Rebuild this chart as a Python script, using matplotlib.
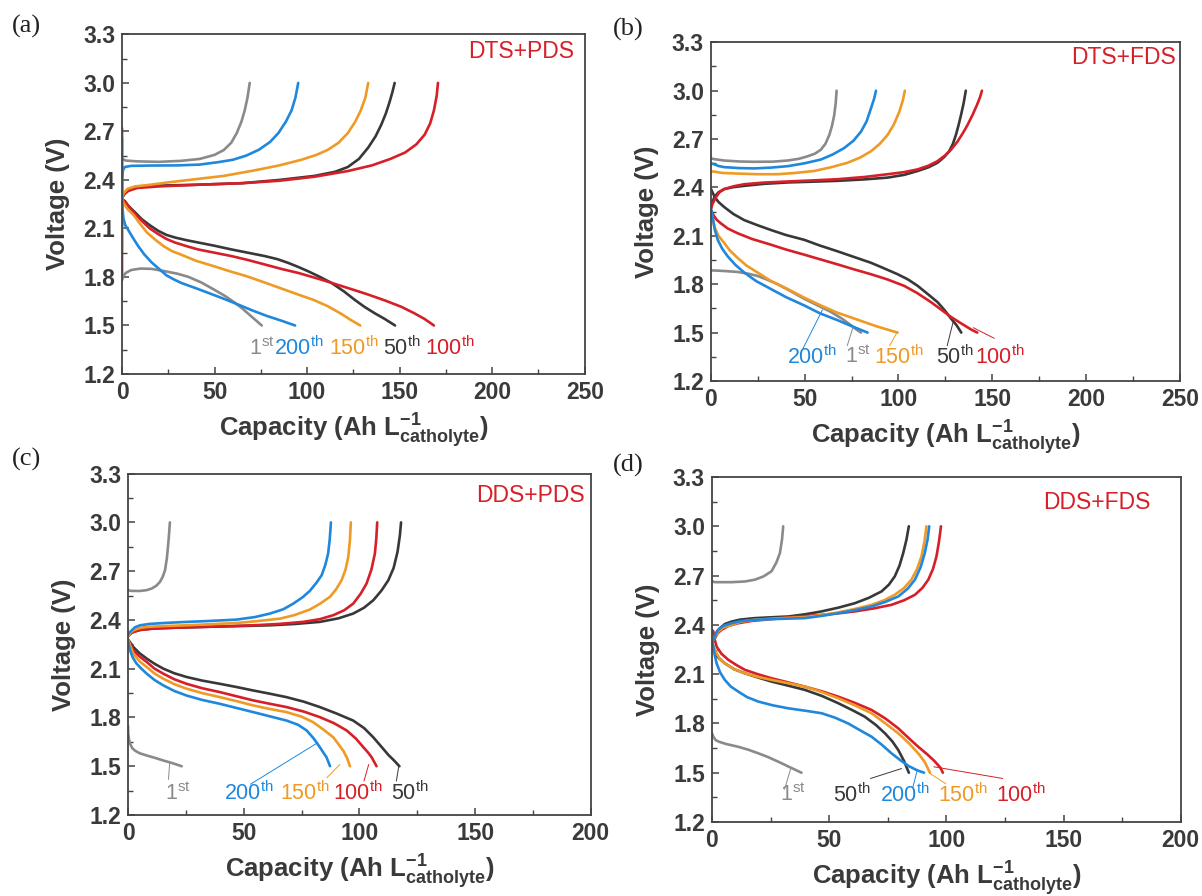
"""Charge/discharge voltage profiles for the four catholyte combinations."""

import matplotlib

matplotlib.use("Agg")
import matplotlib.pyplot as plt
import numpy as np
from matplotlib.ticker import FormatStrFormatter, MultipleLocator


CYCLE_COLORS = {
    "1st": "#8a8a8a",
    "50th": "#383838",
    "100th": "#d61f28",
    "150th": "#ef9a24",
    "200th": "#1f88dc",
}
DRAW_ORDER = ["1st", "50th", "100th", "150th", "200th"]

# ---- (a) DTS+PDS : (capacity Ah/L, voltage V) ----
A_CHARGE = {
    "1st": [(0, 2.53), (2, 2.52), (8, 2.515), (20, 2.512), (32, 2.518), (42, 2.53), (50, 2.555),
            (55, 2.585), (59, 2.63), (62, 2.69), (64.5, 2.76), (66.3, 2.83), (67.8, 2.91), (69, 3.0)],
    "200th": [(0, 2.12), (0, 2.40), (0.5, 2.46), (1.5, 2.48), (5, 2.487), (15, 2.489), (30, 2.49),
              (42, 2.495), (52, 2.51), (60, 2.525), (67, 2.55), (74, 2.587), (80, 2.635),
              (84.5, 2.69), (88.5, 2.76), (91.6, 2.83), (93.7, 2.91), (95.2, 3.0)],
    "150th": [(0, 1.97), (0, 2.29), (1, 2.32), (3, 2.345), (7, 2.36), (15, 2.37), (25, 2.385),
              (40, 2.405), (55, 2.425), (72, 2.46), (85, 2.49), (97, 2.525), (105, 2.555),
              (111, 2.585), (117, 2.63), (122, 2.69), (126, 2.76), (129, 2.83), (131.5, 2.91),
              (133, 3.0)],
    "50th": [(0, 2.29), (1.5, 2.315), (4, 2.34), (9, 2.355), (20, 2.365), (40, 2.37), (65, 2.38),
             (85, 2.40), (104, 2.425), (115, 2.45), (122, 2.48), (128, 2.53), (133, 2.60),
             (137, 2.67), (140, 2.74), (142.5, 2.81), (144.5, 2.88), (146, 2.94), (147.3, 3.0)],
    "100th": [(0, 1.82), (0, 2.29), (1, 2.31), (3, 2.33), (8, 2.35), (20, 2.36), (40, 2.37),
              (65, 2.38), (85, 2.395), (104, 2.42), (122, 2.455), (135, 2.49), (145, 2.53),
              (153, 2.57), (159, 2.62), (163.5, 2.68), (166.5, 2.75), (168.5, 2.83), (170, 2.92),
              (170.7, 3.0)],
}
A_DISCHARGE = {
    "1st": [(0, 1.78), (0.5, 1.80), (2, 1.825), (5, 1.843), (10, 1.852), (16, 1.85), (23, 1.836),
            (30, 1.82), (36, 1.80), (43, 1.765), (50, 1.72), (56, 1.68), (61, 1.64), (65, 1.605),
            (68.5, 1.57), (72, 1.535), (75.5, 1.50)],
    "200th": [(0, 2.66), (0, 2.28), (0.3, 2.22), (0.8, 2.16), (1.8, 2.12), (3.4, 2.09), (6, 2.04),
              (8.8, 1.99), (12, 1.94), (16, 1.89), (20, 1.85), (24, 1.81), (28, 1.785), (32, 1.763),
              (40, 1.73), (47, 1.70), (55, 1.665), (62, 1.633), (70, 1.595), (78, 1.56), (86, 1.53),
              (93.5, 1.50)],
    "150th": [(0, 2.28), (1, 2.255), (3, 2.22), (6.5, 2.18), (10, 2.125), (13.5, 2.075), (18, 2.03),
              (22.5, 1.99), (27, 1.96), (31.5, 1.94), (40, 1.90), (49.5, 1.867), (58, 1.836),
              (67.5, 1.804), (76, 1.77), (85.5, 1.731), (95, 1.692), (103.5, 1.658), (111, 1.62),
              (118, 1.575), (123.5, 1.535), (128.7, 1.50)],
    "50th": [(0, 2.28), (1.5, 2.27), (3.4, 2.24), (7, 2.20), (10.6, 2.158), (15, 2.12), (19.6, 2.085),
             (24, 2.06), (28.6, 2.044), (35, 2.027), (41.2, 2.013), (50, 1.993), (59.2, 1.97),
             (68, 1.95), (77.2, 1.929), (84, 1.91), (89.8, 1.887), (95, 1.863), (100.6, 1.835),
             (107, 1.80), (113.2, 1.763), (120, 1.71), (125.8, 1.658), (131, 1.615), (136.6, 1.575),
             (142, 1.54), (147.5, 1.50)],
    "100th": [(0, 2.72), (0, 2.28), (1.5, 2.265), (3.4, 2.24), (7, 2.19), (10.6, 2.148), (15, 2.10),
              (19.6, 2.065), (24, 2.035), (28.6, 2.013), (35, 1.99), (41.2, 1.97), (50, 1.95),
              (59.2, 1.929), (68, 1.905), (77.2, 1.877), (86, 1.85), (95.2, 1.825), (107.8, 1.783),
              (122.2, 1.731), (132, 1.695), (142, 1.655), (151, 1.615), (158, 1.575), (163.5, 1.54),
              (168.5, 1.50)],
}

# ---- (b) DTS+FDS ----
B_CHARGE = {
    "1st": [(0, 2.58), (2, 2.575), (7, 2.567), (15, 2.561), (23, 2.559), (33, 2.56), (41, 2.567),
            (47, 2.578), (51.5, 2.593), (55.5, 2.61), (58.6, 2.634), (61, 2.67), (63.1, 2.725),
            (64.5, 2.78), (65.7, 2.847), (66.5, 2.92), (67, 3.0)],
    "200th": [(0, 2.55), (1.8, 2.543), (4, 2.533), (7, 2.526), (15, 2.52), (23, 2.518), (32, 2.523),
              (41, 2.532), (50, 2.55), (58.6, 2.573), (65, 2.605), (71, 2.644), (76, 2.69),
              (80, 2.746), (83, 2.81), (85.3, 2.89), (87, 2.95), (88, 3.0)],
    "150th": [(0, 2.50), (1.8, 2.498), (6, 2.49), (14, 2.486), (25, 2.482), (35.5, 2.482), (45, 2.49),
              (55, 2.502), (64, 2.525), (72.8, 2.553), (79.5, 2.585), (85.3, 2.624), (90, 2.67),
              (94.2, 2.726), (97.5, 2.79), (100.4, 2.868), (102.3, 2.94), (103.4, 3.0)],
    "50th": [(0, 2.27), (0.5, 2.30), (1.8, 2.34), (4, 2.37), (7.1, 2.39), (12, 2.402), (17.8, 2.41),
             (28, 2.422), (40.9, 2.431), (55, 2.436), (67.5, 2.441), (82, 2.45), (94.2, 2.461),
             (103, 2.478), (110.2, 2.502), (116, 2.525), (120.8, 2.553), (124.5, 2.59), (127, 2.624),
             (129, 2.67), (130.6, 2.725), (132, 2.785), (133.3, 2.847), (134.7, 2.92), (135.9, 3.0)],
    "100th": [(0, 2.27), (0.9, 2.30), (2.7, 2.34), (4.5, 2.37), (7.1, 2.39), (12, 2.407),
              (17.8, 2.42), (28, 2.43), (40.9, 2.437), (55, 2.444), (67.5, 2.451), (82, 2.465),
              (94.2, 2.482), (103, 2.495), (110.2, 2.512), (116, 2.535), (120.8, 2.563), (125, 2.60),
              (128, 2.634), (131.5, 2.685), (134.5, 2.74), (136.8, 2.787), (139.5, 2.85),
              (141.8, 2.91), (143.5, 2.96), (144.5, 3.0)],
}
B_DISCHARGE = {
    "1st": [(0, 1.886), (7, 1.882), (14.2, 1.876), (20, 1.865), (24.9, 1.851), (30, 1.828),
            (35.5, 1.80), (42, 1.76), (49.8, 1.709), (57, 1.668), (64, 1.628), (70, 1.585),
            (74.6, 1.546), (77.5, 1.52), (80, 1.50)],
    "200th": [(0, 2.27), (0.5, 2.24), (0.9, 2.217), (2, 2.14), (3.6, 2.075), (6, 2.02), (8.9, 1.973),
              (13, 1.92), (17.8, 1.872), (24, 1.82), (32, 1.77), (40, 1.72), (49.8, 1.668),
              (58, 1.62), (67.5, 1.577), (75, 1.54), (83.5, 1.50)],
    "150th": [(0, 2.26), (0.8, 2.21), (1.8, 2.156), (4, 2.10), (7.1, 2.055), (10, 2.01),
              (14.2, 1.963), (19, 1.915), (24.9, 1.872), (32, 1.82), (40.9, 1.77), (50, 1.715),
              (58.6, 1.668), (67, 1.625), (76.4, 1.587), (88, 1.54), (99.5, 1.50)],
    "50th": [(0, 2.39), (2, 2.34), (4, 2.31), (7.1, 2.278), (12, 2.235), (17.8, 2.197), (25, 2.165),
             (32, 2.136), (40, 2.105), (49.8, 2.075), (58, 2.04), (67.5, 2.004), (76, 1.97),
             (85.3, 1.933), (92, 1.90), (99.5, 1.862), (105, 1.83), (110.2, 1.79), (115.5, 1.74),
             (120.8, 1.689), (124.5, 1.64), (128, 1.587), (131, 1.545), (133.5, 1.50)],
    "100th": [(0, 2.26), (1.5, 2.225), (3, 2.20), (5.3, 2.177), (9, 2.145), (14.2, 2.116),
              (22, 2.08), (32, 2.045), (40, 2.015), (49.8, 1.983), (58, 1.955), (67.5, 1.923),
              (76, 1.893), (85.3, 1.862), (94, 1.83), (103, 1.79), (110, 1.745), (117.3, 1.689),
              (123, 1.64), (128, 1.597), (133, 1.56), (138.6, 1.52), (142, 1.50)],
}

# ---- (c) DDS+PDS ----
C_CHARGE = {
    "1st": [(0, 2.585), (1, 2.579), (5, 2.578), (8, 2.583), (10.2, 2.593), (12.2, 2.61),
            (13.8, 2.634), (15, 2.665), (16, 2.706), (16.8, 2.78), (17.4, 2.87), (17.8, 2.94),
            (18.1, 3.0)],
    "200th": [(0, 2.31), (0.8, 2.325), (1.6, 2.336), (3, 2.355), (5.2, 2.367), (9, 2.375),
              (15.3, 2.381), (24, 2.387), (32.5, 2.392), (40, 2.397), (46.9, 2.402), (55, 2.418),
              (61.3, 2.439), (67, 2.465), (71.4, 2.50), (75.5, 2.54), (78.6, 2.579), (81.5, 2.63),
              (83.7, 2.675), (85.3, 2.74), (86.5, 2.809), (87.2, 2.90), (87.7, 3.0)],
    "150th": [(0, 2.30), (1, 2.32), (2.3, 2.336), (5, 2.35), (8.1, 2.357), (15, 2.362), (25.3, 2.367),
              (35, 2.373), (46.9, 2.381), (56, 2.393), (65.7, 2.408), (72, 2.43), (78.6, 2.464),
              (83, 2.50), (87.3, 2.542), (90, 2.59), (92.3, 2.644), (94, 2.71), (95.2, 2.788),
              (95.9, 2.89), (96.3, 3.0)],
    "100th": [(0, 2.30), (1, 2.315), (2.3, 2.326), (5, 2.338), (10.9, 2.347), (20, 2.352),
              (32.5, 2.357), (43, 2.362), (54.1, 2.367), (65, 2.375), (75.7, 2.388), (83, 2.405),
              (88.7, 2.429), (93.5, 2.46), (97.3, 2.50), (100.5, 2.56), (103.1, 2.624), (105.2, 2.71),
              (106.7, 2.809), (107.3, 2.90), (107.7, 3.0)],
    "50th": [(0, 2.30), (1, 2.315), (2.3, 2.326), (5, 2.338), (10.9, 2.347), (20, 2.352),
             (32.5, 2.357), (45, 2.361), (61.3, 2.367), (72, 2.375), (82.9, 2.388), (91, 2.41),
             (97.3, 2.439), (102, 2.475), (106, 2.521), (109.5, 2.58), (112.5, 2.644), (114.8, 2.72),
             (116.5, 2.82), (117.5, 2.92), (118, 3.0)],
}
C_DISCHARGE = {
    "1st": [(0, 1.75), (0.1, 1.70), (0.5, 1.66), (0.9, 1.638), (1.8, 1.612), (3, 1.596), (5, 1.58),
            (8.1, 1.566), (12, 1.55), (15.3, 1.535), (19, 1.52), (23.2, 1.50)],
    "200th": [(0, 2.27), (0.9, 2.213), (2, 2.17), (3.7, 2.131), (5.8, 2.10), (8.1, 2.069),
              (11.5, 2.03), (15.3, 1.997), (20, 1.963), (25.3, 1.935), (32, 1.908), (39.7, 1.884),
              (47, 1.858), (54.1, 1.833), (61, 1.808), (68.5, 1.781), (73.5, 1.755), (77.2, 1.72),
              (80.3, 1.67), (82.9, 1.617), (84.6, 1.58), (85.8, 1.555), (87.3, 1.50)],
    "150th": [(0, 2.28), (1, 2.24), (2.3, 2.192), (5, 2.145), (8.1, 2.11), (11.5, 2.07),
              (15.3, 2.038), (20, 2.005), (25.3, 1.977), (32, 1.95), (39.7, 1.925), (47, 1.90),
              (54.1, 1.874), (61, 1.853), (68.5, 1.833), (75, 1.805), (80, 1.771), (84.5, 1.725),
              (88.7, 1.678), (91, 1.635), (93, 1.596), (94.7, 1.55), (95.9, 1.50)],
    "100th": [(0, 2.28), (1, 2.25), (2.3, 2.213), (5, 2.175), (8.1, 2.141), (11.5, 2.10),
              (15.3, 2.069), (20, 2.035), (25.3, 2.007), (32, 1.98), (39.7, 1.956), (47, 1.93),
              (54.1, 1.905), (61, 1.885), (68.5, 1.864), (76, 1.836), (82.9, 1.802), (89, 1.765),
              (94.5, 1.72), (98.5, 1.67), (101.7, 1.617), (103.7, 1.585), (105.3, 1.555),
              (107.4, 1.50)],
    "50th": [(0, 2.28), (1, 2.26), (2.3, 2.233), (5, 2.195), (8.1, 2.162), (11.5, 2.13),
             (15.3, 2.10), (20, 2.072), (25.3, 2.049), (32, 2.027), (39.7, 2.007), (47, 1.987),
             (54.1, 1.966), (61, 1.947), (68.5, 1.925), (76, 1.897), (82.9, 1.864), (90, 1.825),
             (97.3, 1.781), (102, 1.735), (106, 1.678), (109.5, 1.62), (112.5, 1.57), (115, 1.535),
             (117.3, 1.50)],
}

# ---- (d) DDS+FDS ----
D_CHARGE = {
    "1st": [(0, 2.665), (1.3, 2.66), (8.4, 2.66), (14, 2.664), (18.3, 2.675), (22, 2.695),
            (25.4, 2.726), (27.5, 2.78), (29, 2.837), (29.9, 2.92), (30.4, 3.0)],
    "50th": [(0, 2.30), (1.3, 2.33), (2.2, 2.36), (3.4, 2.38), (5.5, 2.405), (8.4, 2.42),
             (12, 2.432), (18.3, 2.441), (25, 2.446), (32.6, 2.451), (40, 2.465), (46.8, 2.482),
             (54, 2.505), (61, 2.532), (67, 2.565), (72.4, 2.604), (75.5, 2.645), (78, 2.695),
             (80, 2.76), (81.6, 2.837), (83, 2.92), (84, 3.0)],
    "200th": [(0, 2.29), (1, 2.32), (1.8, 2.35), (2.7, 2.37), (5, 2.395), (8.4, 2.41), (12, 2.422),
              (18.3, 2.431), (28, 2.436), (39.7, 2.441), (47, 2.455), (53.9, 2.471), (61, 2.49),
              (68.1, 2.512), (74, 2.54), (79.5, 2.573), (83.5, 2.62), (86.6, 2.675), (89, 2.75),
              (90.8, 2.837), (92, 2.92), (92.7, 3.0)],
    "150th": [(0, 2.29), (1, 2.32), (2.7, 2.36), (5, 2.385), (8.4, 2.40), (12, 2.418),
              (18.3, 2.431), (28, 2.44), (39.7, 2.447), (47, 2.46), (53.9, 2.476), (61, 2.497),
              (68.1, 2.522), (73.5, 2.55), (78, 2.583), (82, 2.625), (85.1, 2.675), (87.5, 2.74),
              (89.4, 2.817), (90.7, 2.91), (91.5, 3.0)],
    "100th": [(0, 2.28), (1.3, 2.32), (2.5, 2.35), (4.1, 2.37), (7, 2.393), (11.2, 2.41),
              (17, 2.424), (25.4, 2.435), (35, 2.448), (46.8, 2.461), (55, 2.472), (61, 2.482),
              (69, 2.50), (76.6, 2.522), (82, 2.55), (86.6, 2.583), (89.8, 2.625), (92.3, 2.675),
              (94.3, 2.74), (95.8, 2.817), (96.9, 2.91), (97.7, 3.0)],
}
D_DISCHARGE = {
    "1st": [(0, 1.74), (0.6, 1.72), (1.5, 1.70), (2.7, 1.69), (6, 1.675), (11.2, 1.658),
            (15.5, 1.64), (19.8, 1.618), (24, 1.595), (28.3, 1.567), (33, 1.535), (38.2, 1.50)],
    "50th": [(0, 2.30), (0.6, 2.248), (2, 2.21), (5.5, 2.166), (9.5, 2.13), (14.1, 2.105),
             (19.5, 2.08), (25.4, 2.055), (32.5, 2.03), (39.7, 2.004), (47, 1.967), (53.9, 1.923),
             (60, 1.88), (65.2, 1.841), (70, 1.79), (73.8, 1.74), (77, 1.69), (79.5, 1.638),
             (82, 1.57), (84, 1.50)],
    "200th": [(0, 2.30), (0.3, 2.29), (0.6, 2.268), (1.2, 2.215), (2, 2.166), (3.5, 2.11),
              (5.5, 2.065), (8, 2.025), (11.2, 1.994), (15, 1.96), (19.8, 1.933), (26, 1.91),
              (32.6, 1.892), (40, 1.877), (46.8, 1.862), (52.5, 1.835), (58.1, 1.80), (63, 1.76),
              (68.1, 1.719), (72.5, 1.67), (76.6, 1.618), (80.5, 1.575), (84, 1.54), (87.5, 1.515),
              (90.5, 1.50)],
    "150th": [(0, 2.30), (1.3, 2.248), (3, 2.20), (5.5, 2.166), (9.5, 2.13), (14.1, 2.105),
              (19.5, 2.083), (25.4, 2.065), (32.5, 2.045), (39.7, 2.024), (47, 1.99), (53.9, 1.953),
              (61, 1.91), (68.1, 1.862), (74, 1.80), (79.5, 1.74), (84, 1.68), (88, 1.618),
              (90.8, 1.565), (93, 1.50)],
    "100th": [(0, 2.37), (0.6, 2.36), (1.2, 2.31), (2, 2.268), (4, 2.225), (7, 2.187),
              (10.5, 2.155), (14.1, 2.126), (19.5, 2.10), (25.4, 2.075), (32.5, 2.05), (39.7, 2.024),
              (47, 1.995), (53.9, 1.963), (61, 1.925), (68.1, 1.882), (74, 1.83), (79.5, 1.77),
              (84, 1.71), (88, 1.658), (92, 1.61), (95, 1.57), (97.5, 1.53), (98.5, 1.50)],
}

# cycle tags: (cycle, x, y) in data units, left aligned
A_TAGS = [("1st", 68.6, 1.36), ("200th", 82, 1.36), ("150th", 112, 1.36), ("50th", 141, 1.36),
          ("100th", 163.6, 1.36)]
B_TAGS = [("200th", 40.5, 1.35), ("1st", 71.7, 1.35), ("150th", 87, 1.35), ("50th", 120, 1.35),
          ("100th", 141, 1.35)]
C_TAGS = [("1st", 15.9, 1.335), ("200th", 41.5, 1.335), ("150th", 65.5, 1.335),
          ("100th", 88.7, 1.335), ("50th", 113.5, 1.335)]
D_TAGS = [("1st", 29, 1.365), ("50th", 51.8, 1.365), ("200th", 71.5, 1.365),
          ("150th", 96.4, 1.365), ("100th", 121, 1.365)]

# thin leader lines from a tag to its curve: (cycle, x0, y0, x1, y1)
A_LEADERS = []
B_LEADERS = [("200th", 49, 1.40, 59.4, 1.64), ("1st", 72.7, 1.42, 75.8, 1.535),
             ("150th", 95.3, 1.42, 99.4, 1.505), ("50th", 126, 1.42, 129, 1.56),
             ("100th", 151, 1.465, 140, 1.53)]
C_LEADERS = [("1st", 17.5, 1.42, 18, 1.52), ("200th", 53, 1.39, 82, 1.645),
             ("150th", 86, 1.43, 91.5, 1.51), ("100th", 102, 1.41, 104, 1.51),
             ("50th", 116, 1.41, 117, 1.50)]
D_LEADERS = [("1st", 31, 1.40, 33.5, 1.52), ("50th", 67.7, 1.465, 80.8, 1.525),
             ("200th", 85.7, 1.41, 87.4, 1.505), ("150th", 99.7, 1.434, 93, 1.495),
             ("100th", 124, 1.465, 94.7, 1.536)]

PANELS = [
    # letter, title, x max, charge, discharge, tags, leaders, axes rect, title pos (axes frac)
    ("(a)", "DTS+PDS", 250, A_CHARGE, A_DISCHARGE, A_TAGS, A_LEADERS,
     [0.1015, 0.5826, 0.385, 0.379], (0.977, 0.951)),
    ("(b)", "DTS+FDS", 250, B_CHARGE, B_DISCHARGE, B_TAGS, B_LEADERS,
     [0.5915, 0.5748, 0.390, 0.378], (0.992, 0.954)),
    ("(c)", "DDS+PDS", 200, C_CHARGE, C_DISCHARGE, C_TAGS, C_LEADERS,
     [0.1065, 0.0904, 0.385, 0.381], (0.988, 0.936)),
    ("(d)", "DDS+FDS", 200, D_CHARGE, D_DISCHARGE, D_TAGS, D_LEADERS,
     [0.5923, 0.0826, 0.390, 0.385], (0.936, 0.925)),
]
LETTER_POS = [(0.022, 0.971), (0.523, 0.967), (0.022, 0.487), (0.523, 0.480)]

INK = "#3a3a3a"

plt.rcParams.update(
    {
        "font.family": ["Liberation Sans", "DejaVu Sans"],
        "mathtext.fontset": "custom",
        "mathtext.rm": "Liberation Sans",
        "mathtext.bf": "Liberation Sans:bold",
        "mathtext.default": "regular",
        "axes.linewidth": 1.3,
        "axes.edgecolor": "#444444",
        "xtick.direction": "in",
        "ytick.direction": "in",
        "xtick.color": "#444444",
        "ytick.color": "#444444",
    }
)


def tag_text(cycle):
    num = cycle.rstrip("stndrh")
    suffix = cycle[len(num):]
    return num + r"$^{\mathregular{" + suffix + "}}$"


def draw_panel(fig, letter, title, xmax, charge, discharge, tags, leaders, rect, title_pos, letter_pos):
    ax = fig.add_axes(rect)
    for cycle in DRAW_ORDER:
        color = CYCLE_COLORS[cycle]
        for curves in (charge, discharge):
            pts = np.array(curves[cycle])
            ax.plot(pts[:, 0], pts[:, 1], color=color, lw=1.9, solid_capstyle="round",
                    solid_joinstyle="round")

    for cycle, x0, y0, x1, y1 in leaders:
        ax.plot([x0, x1], [y0, y1], color=CYCLE_COLORS[cycle], lw=0.7)

    for cycle, x, y in tags:
        ax.text(x, y, tag_text(cycle), color=CYCLE_COLORS[cycle], fontsize=15.5,
                ha="left", va="center")

    ax.text(title_pos[0], title_pos[1], title, transform=ax.transAxes, color="#d61f28",
            fontsize=16.5, ha="right", va="center")

    ax.set_xlim(0, xmax)
    ax.set_ylim(1.2, 3.3)
    ax.xaxis.set_major_locator(MultipleLocator(50))
    ax.xaxis.set_minor_locator(MultipleLocator(25))
    ax.yaxis.set_major_locator(MultipleLocator(0.3))
    ax.yaxis.set_minor_locator(MultipleLocator(0.15))
    ax.yaxis.set_major_formatter(FormatStrFormatter("%.1f"))
    ax.tick_params(which="major", length=5, width=1.1, labelsize=16.5, pad=5)
    ax.tick_params(which="minor", length=3.5, width=1.0)
    for lab in ax.get_xticklabels() + ax.get_yticklabels():
        lab.set_fontweight("bold")
        lab.set_color(INK)

    ax.set_ylabel("Voltage (V)", fontsize=18.5, fontweight="bold", color=INK, labelpad=9)
    ax.set_xlabel(r"Capacity (Ah L$^{\mathbf{-1}}_{\mathbf{catholyte}}$)", fontsize=18.5,
                  fontweight="bold", color=INK, labelpad=5)

    fig.text(letter_pos[0], letter_pos[1], letter, fontsize=19, family="Liberation Serif",
             ha="center", va="center", color="#222222")
    return ax


def main():
    fig = plt.figure(figsize=(12.02, 8.96), dpi=100)
    for panel, letter_pos in zip(PANELS, LETTER_POS):
        draw_panel(fig, *panel, letter_pos)
    fig.savefig("out.png", dpi=100, facecolor="white")


if __name__ == "__main__":
    main()
